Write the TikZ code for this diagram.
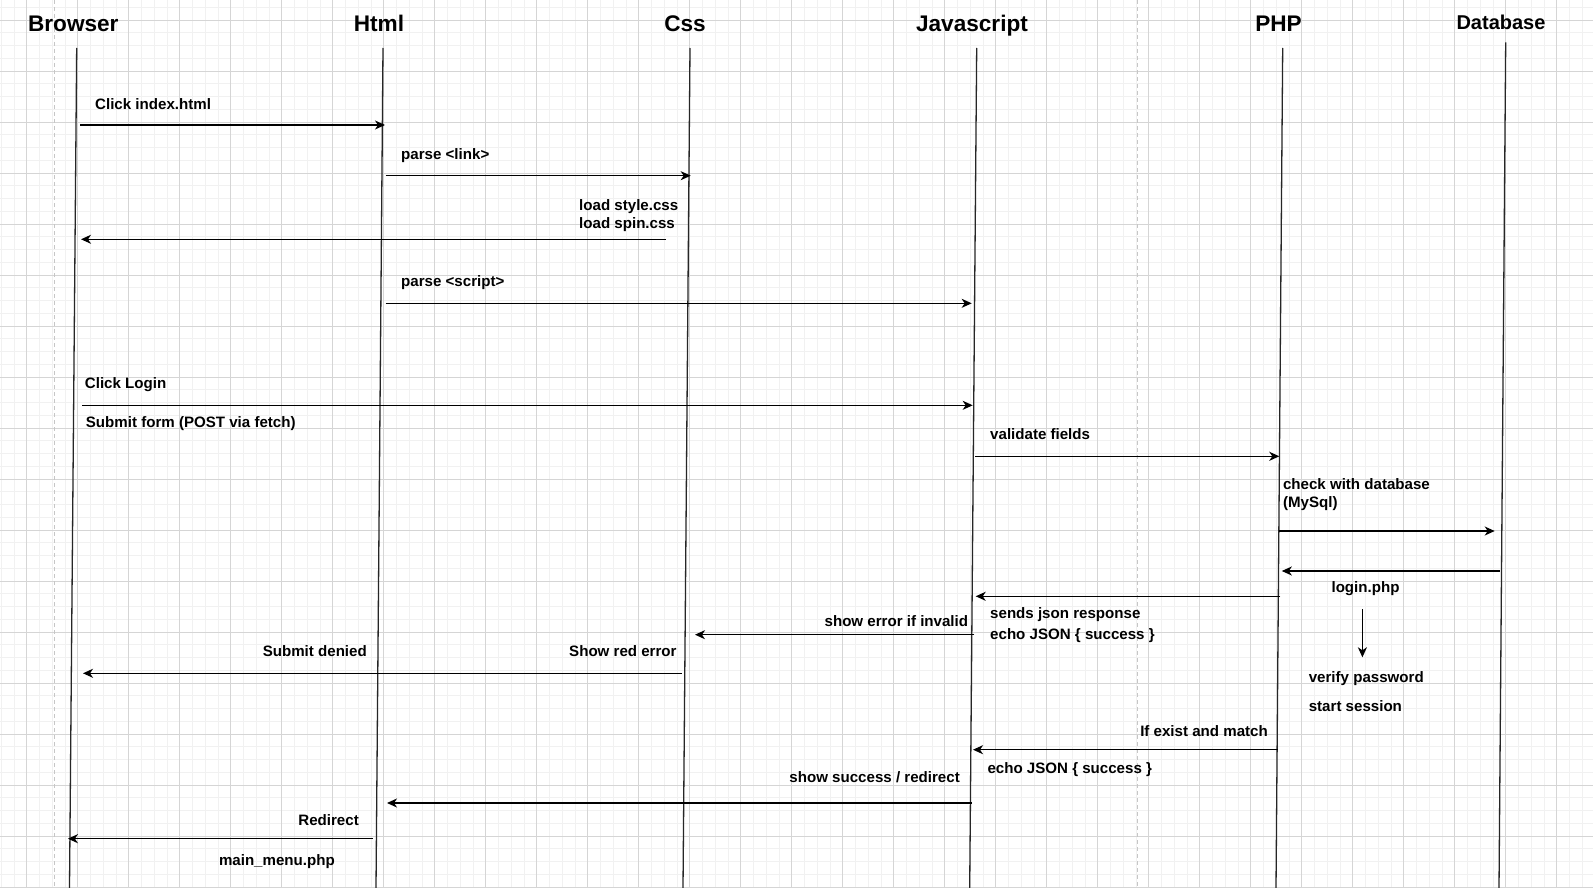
\documentclass[tikz,border=0pt]{standalone}
\usepackage{fontspec}
\setmainfont{Liberation Sans}
\usetikzlibrary{arrows.meta}

\tikzset{
  minorgrid/.style={gray!11, line width=0.8pt},
  majorgrid/.style={gray!33, line width=0.8pt},
  guide/.style={gray!45, line width=0.9pt, dash pattern=on 4pt off 3pt},
  lifeline/.style={black!85, line width=1.3pt},
  msg/.style={black, line width=1.3pt, -{Stealth[length=10pt,width=9pt,inset=3pt]}},
  head/.style={font=\fontsize{22.6}{26}\selectfont\bfseries, inner sep=0pt, anchor=base},
  lbl/.style={font=\fontsize{15.1}{17.5}\selectfont\bfseries, inner sep=0pt, anchor=base west},
  lble/.style={lbl, anchor=base east},
}
\newcommand\sendmsg[4]{
  \coordinate (#1-from) at (#2,#4);
  \coordinate (#1-to) at (#3,#4);
  \draw[msg] (#1-from) -- (#1-to);
}

\begin{document}
\begin{tikzpicture}[x=1pt,y=-1pt]
  \useasboundingbox (0,0) rectangle (1593,888);
  %
  \begin{scope}
    \clip (0,0) rectangle (1593,888);
    \fill[white] (0,0) rectangle (1593,888);
    \foreach \k in {-2,...,123}
      \draw[minorgrid] ({26.7+12.75*\k},0) -- ++(0,888);
    \foreach \k in {-1,...,68}
      \draw[minorgrid] (0,{20+12.75*\k}) -- ++(1593,0);
    \foreach \k in {0,...,30}
      \draw[majorgrid] ({26.7+51*\k},0) -- ++(0,888);
    \foreach \k in {0,...,17}
      \draw[majorgrid] (0,{20+51*\k}) -- ++(1593,0);
    \draw[guide] (54.9,0) -- (54.9,888);
    \draw[guide] (1137.8,0) -- (1137.8,888);
  \end{scope}

  % headers
  \node[head] (browser) at (73.3,31.7) {Browser};
  \node[head] (html) at (379,31.7) {Html};
  \node[head] (css) at (685,31.7) {Css};
  \node[head] (js) at (972,31.7) {Javascript};
  \node[head] (php) at (1278.5,31.7) {PHP};
  \node[head, font=\fontsize{20}{24}\selectfont\bfseries] (db) at (1501,29.3) {Database};

  % lifelines
  \foreach \name/\xt/\yt/\xb in {browser/76.7/48/69.5, html/383/48/376,
      css/690/48/683, js/976.7/48/969.7, php/1282.7/48/1276, db/1505.7/42.3/1499} {
    \coordinate (\name-top) at (\xt,\yt);
    \coordinate (\name-bot) at (\xb,888);
    \draw[lifeline] (\name-top) -- (\name-bot);
  }

  % messages
  \sendmsg{m1}{80}{385}{125}
  \sendmsg{m2}{385.7}{690.7}{175.7}
  \sendmsg{m3}{666}{81}{239.3}
  \sendmsg{m4}{385.7}{971.7}{303.3}
  \sendmsg{m5}{82.3}{972.7}{405.3}
  \sendmsg{m6}{975}{1279.3}{456.3}
  \sendmsg{m7}{1278.7}{1494.7}{531}
  \sendmsg{m8}{1499.8}{1281.8}{571}
  \sendmsg{m9}{1280.4}{975.7}{596.3}
  \sendmsg{m10}{974.3}{695}{634.7}
  \sendmsg{m11}{681.7}{83}{673.3}
  \sendmsg{m12}{1277.7}{973}{749.7}
  \sendmsg{m13}{971.7}{387}{803}
  \sendmsg{m14}{372.8}{67.9}{838.7}
  \coordinate (verify-from) at (1362.4,609);
  \coordinate (verify-to) at (1362.4,657.3);
  \draw[msg] (verify-from) -- (verify-to);

  % labels
  \node[lbl] (l1) at (95,109.3) {Click index.html};
  \node[lbl] (l2) at (401,160) {parse <link>};
  \node[lbl] (l3a) at (579,210.7) {load style.css};
  \node[lbl] (l3b) at (579,228) {load spin.css};
  \node[lbl] (l4) at (401,286.7) {parse <script>};
  \node[lbl] (l5a) at (84.7,388.3) {Click Login};
  \node[lbl] (l5b) at (85.7,427.7) {Submit form (POST via fetch)};
  \node[lbl] (l6) at (990,439.3) {validate fields};
  \node[lbl] (l7a) at (1282.8,489.3) {check with database};
  \node[lbl] (l7b) at (1282.8,507.7) {(MySql)};
  \node[lbl, anchor=base] (l8) at (1365.5,592.7) {login.php};
  \node[lbl] (l9a) at (990,618.3) {sends json response};
  \node[lbl] (l9b) at (990,639) {echo JSON \{ success \}};
  \node[lble] (l10) at (968.3,626.7) {show error if invalid};
  \node[lble] (l11a) at (676.8,656.7) {Show red error};
  \node[lble] (l11b) at (367,656.7) {Submit denied};
  \node[lbl] (l12a) at (1308.6,682.7) {verify password};
  \node[lbl] (l12b) at (1308.6,711.7) {start session};
  \node[lble] (l13a) at (1268,736.7) {If exist and match};
  \node[lbl] (l13b) at (987.3,773.3) {echo JSON \{ success \}};
  \node[lble] (l14) at (960,782.3) {show success / redirect};
  \node[lble] (l15a) at (359,825.7) {Redirect};
  \node[lbl] (l15b) at (218.8,865) {main\_menu.php};

\end{tikzpicture}
\end{document}
